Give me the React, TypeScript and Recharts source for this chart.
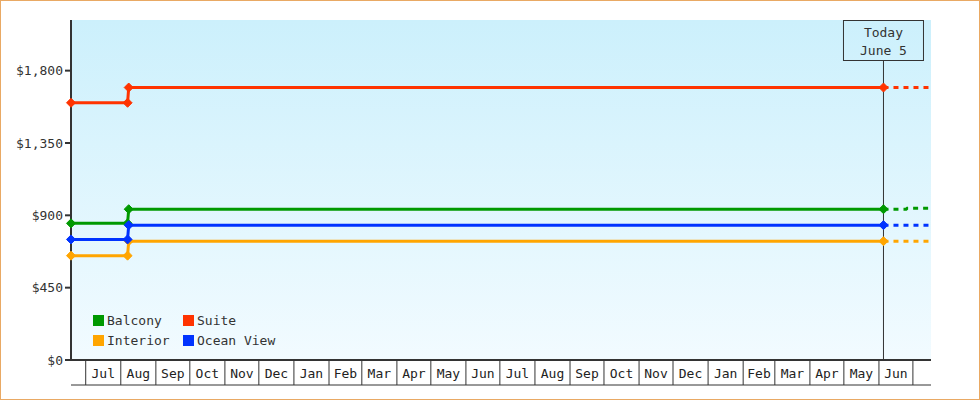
import { LineChart, Line, XAxis, YAxis, CartesianGrid, ReferenceLine, Legend } from "recharts"

// cabin categories
const CABINS = ["Balcony", "Suite", "Interior", "Ocean View"]

// solid history: dates where the price was recorded
const PRICE_DATES = ["2023-06-18", "2023-08-07", "2023-08-08", "2025-06-05"]
const BALCONY = [850, 850, 938, 938]
const SUITE = [1600, 1600, 1695, 1695]
const INTERIOR = [649, 649, 739, 739]
const OCEAN_VIEW = [750, 750, 839, 839]

// dashed projection past today
const FORECAST_DATES = ["2025-06-05", "2025-06-25", "2025-06-26", "2025-07-17"]
const BALCONY_FORECAST = [938, 938, 944, 944]
const SUITE_FORECAST = [1695, 1695, 1695, 1695]
const INTERIOR_FORECAST = [739, 739, 739, 739]
const OCEAN_VIEW_FORECAST = [839, 839, 839, 839]

const MONTH_LABELS = [
  "Jul", "Aug", "Sep", "Oct", "Nov", "Dec", "Jan", "Feb", "Mar", "Apr", "May", "Jun",
  "Jul", "Aug", "Sep", "Oct", "Nov", "Dec", "Jan", "Feb", "Mar", "Apr", "May", "Jun",
]
const FIRST_MONTH = { year: 2023, month: 6 } // July 2023
const RANGE = ["2023-06-18", "2025-07-17"]
const TODAY = "2025-06-05"
const TODAY_LABEL = ["Today", "June 5"]
const Y_TICKS = [0, 450, 900, 1350, 1800]
const Y_MAX = 2115

const COLORS = {
  Balcony: "#009900",
  Suite: "#ff3300",
  Interior: "#ffa500",
  "Ocean View": "#0033ff",
}
const MONO = "'DejaVu Sans Mono', monospace"
const INK = "#333"

const day = (s: string) => Date.parse(s + "T00:00:00Z") / 86400000

const toSeries = (dates: string[], values: number[]) =>
  dates.map((d, i) => ({ t: day(d), v: values[i] }))

const history: Record<string, { t: number; v: number }[]> = {
  Balcony: toSeries(PRICE_DATES, BALCONY),
  Suite: toSeries(PRICE_DATES, SUITE),
  Interior: toSeries(PRICE_DATES, INTERIOR),
  "Ocean View": toSeries(PRICE_DATES, OCEAN_VIEW),
}
const forecast: Record<string, { t: number; v: number }[]> = {
  Balcony: toSeries(FORECAST_DATES, BALCONY_FORECAST),
  Suite: toSeries(FORECAST_DATES, SUITE_FORECAST),
  Interior: toSeries(FORECAST_DATES, INTERIOR_FORECAST),
  "Ocean View": toSeries(FORECAST_DATES, OCEAN_VIEW_FORECAST),
}

// month cell borders + centres for the x axis
const boundaries = Array.from({ length: MONTH_LABELS.length + 1 }, (_, i) =>
  Date.UTC(FIRST_MONTH.year, FIRST_MONTH.month + i, 1) / 86400000
)
const labelAt = new Map<number, string>()
MONTH_LABELS.forEach((m, i) => labelAt.set((boundaries[i] + boundaries[i + 1]) / 2, m))
const xTicks = [...boundaries, ...labelAt.keys()].sort((a, b) => a - b)

const MonthTick = ({ x, y, payload }: any) => {
  const label = labelAt.get(payload.value)
  if (label) {
    return (
      <text x={x} y={y + 18} textAnchor="middle" fontFamily={MONO} fontSize={13} fill="#222">
        {label}
      </text>
    )
  }
  return <line x1={x} x2={x} y1={y} y2={y + 25} stroke={INK} strokeWidth={1} />
}

const Diamond = (props: any) => {
  const { cx, cy, stroke, key } = props
  if (cx == null || cy == null) return null
  const r = 4.5
  return (
    <polygon
      key={key}
      points={`${cx},${cy - r} ${cx + r},${cy} ${cx},${cy + r} ${cx - r},${cy}`}
      fill={stroke}
      stroke={stroke}
      strokeWidth={1}
    />
  )
}

const TodayLabel = ({ viewBox }: any) => {
  if (!viewBox) return null
  const { x, y } = viewBox
  return (
    <g>
      <rect x={x - 40} y={y + 0.5} width={80} height={40} fill="url(#plotBg)" stroke={INK} strokeWidth={1} />
      <text x={x} y={y + 17} textAnchor="middle" fontFamily={MONO} fontSize={13} fill={INK}>
        {TODAY_LABEL[0]}
      </text>
      <text x={x} y={y + 35} textAnchor="middle" fontFamily={MONO} fontSize={13} fill={INK}>
        {TODAY_LABEL[1]}
      </text>
    </g>
  )
}

const renderLegend = () => (
  <div
    style={{
      display: "grid",
      gridTemplateColumns: "90px auto",
      fontFamily: MONO,
      fontSize: 13,
      color: INK,
    }}
  >
    {CABINS.map((name) => (
      <div key={name} style={{ display: "flex", alignItems: "center", height: 20 }}>
        <span
          style={{
            width: 11,
            height: 11,
            background: COLORS[name as keyof typeof COLORS],
            marginRight: 3,
            display: "inline-block",
          }}
        />
        <span>{name}</span>
      </div>
    ))}
  </div>
)

export default function App() {
  return (
    <div
      style={{
        position: "absolute",
        left: 0,
        top: 0,
        width: 978,
        height: 398,
        border: "1px solid #e9a964",
        background: "#fff",
      }}
    >
      <LineChart width={978} height={398} margin={{ top: 19, right: 48, bottom: 13, left: 0 }}>
        <defs>
          <linearGradient id="plotBg" gradientUnits="userSpaceOnUse" x1={0} y1={19} x2={0} y2={359}>
            <stop offset="0%" stopColor="#ccf0fc" />
            <stop offset="100%" stopColor="#f2fbff" />
          </linearGradient>
        </defs>
        <CartesianGrid horizontal={false} vertical={false} fill="url(#plotBg)" stroke="none" />
        <XAxis
          type="number"
          dataKey="t"
          domain={[day(RANGE[0]), day(RANGE[1])]}
          ticks={xTicks}
          interval={0}
          tick={<MonthTick />}
          tickLine={false}
          tickSize={0}
          tickMargin={0}
          height={25}
          axisLine={{ stroke: INK, strokeWidth: 2 }}
        />
        <XAxis
          xAxisId="base"
          type="number"
          dataKey="t"
          domain={[day(RANGE[0]), day(RANGE[1])]}
          tick={false}
          tickLine={false}
          height={1}
          axisLine={{ stroke: INK, strokeWidth: 1 }}
        />
        <YAxis
          type="number"
          domain={[0, Y_MAX]}
          ticks={Y_TICKS}
          width={70}
          tickSize={6}
          tickMargin={2}
          tickFormatter={(v: number) => `$${v.toLocaleString("en-US")}`}
          tick={{ fill: INK, fontSize: 13, fontFamily: MONO }}
          tickLine={{ stroke: INK, strokeWidth: 2 }}
          axisLine={{ stroke: INK, strokeWidth: 2 }}
        />
        <ReferenceLine x={day(TODAY)} stroke={INK} strokeWidth={1} label={<TodayLabel />} />
        {CABINS.map((name) => (
          <Line
            key={name + "-f"}
            data={forecast[name]}
            dataKey="v"
            type="linear"
            stroke={COLORS[name as keyof typeof COLORS]}
            strokeWidth={3}
            strokeDasharray="5 5"
            dot={false}
            activeDot={false}
            isAnimationActive={false}
            legendType="none"
          />
        ))}
        {CABINS.map((name) => (
          <Line
            key={name}
            name={name}
            data={history[name]}
            dataKey="v"
            type="linear"
            stroke={COLORS[name as keyof typeof COLORS]}
            strokeWidth={3}
            dot={Diamond}
            activeDot={false}
            isAnimationActive={false}
          />
        ))}
        <Legend
          layout="vertical"
          align="center"
          verticalAlign="middle"
          content={renderLegend}
          wrapperStyle={{ position: "absolute", left: 92, top: 309.5, width: "auto", height: "auto" }}
        />
      </LineChart>
    </div>
  )
}
